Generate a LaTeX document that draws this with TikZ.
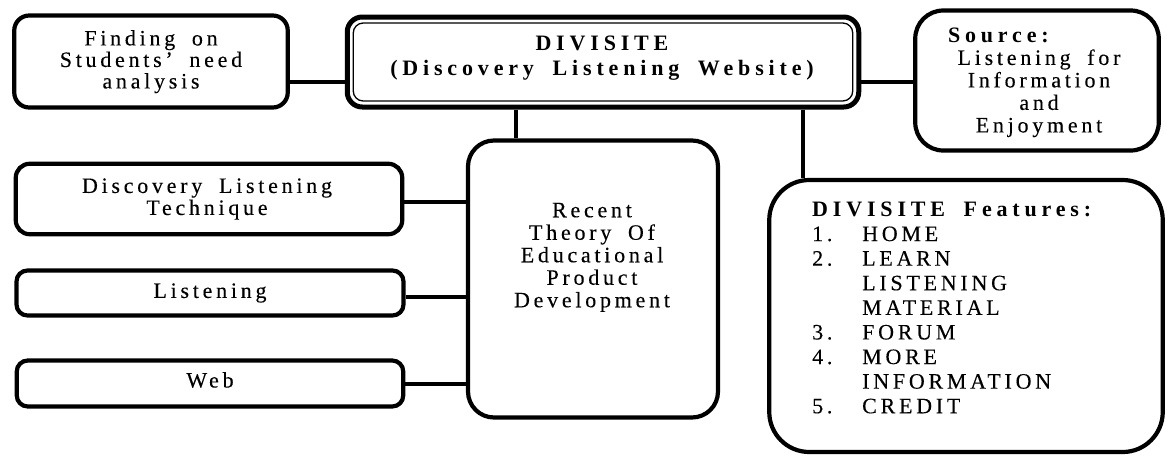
\documentclass[tikz,border=0pt]{standalone}
\usepackage{fontspec}
\setmainfont{Liberation Serif}[LetterSpace=17, WordSpace=1.8, UprightFeatures={FakeBold=0.2}, BoldFeatures={LetterSpace=22}]
\begin{document}
\begin{tikzpicture}[x=1pt,y=-1pt,
  box/.style={draw, line width=4.2pt, rounded corners=#1, inner sep=0pt},
  box/.default=12pt,
  txt/.style={inner sep=0pt, align=center},
  link/.style={line width=3.5pt}]
\useasboundingbox (0,0) rectangle (1167,461);
% boxes
\node[box=15pt, minimum width=273.5pt, minimum height=92pt] (find) at (151,61.5) {};
\node[box=15pt, line width=5pt, minimum width=511.5pt, minimum height=90pt] (main) at (603,62) {};
\draw[line width=1.3pt, rounded corners=10pt] ([shift={(8.5pt,-8.5pt)}]main.north west) rectangle ([shift={(-8.5pt,8.5pt)}]main.south east);
\node[box=28pt, minimum width=243.5pt, minimum height=140pt] (src) at (1037,80.5) {};
\node[box=14pt, minimum width=386.5pt, minimum height=70.5pt] (disc) at (209,199) {};
\node[box=11pt, minimum width=387pt, minimum height=45pt] (lis) at (210,293) {};
\node[box=11pt, minimum width=386.5pt, minimum height=46pt] (web) at (210,383.5) {};
\node[box=26pt, minimum width=250pt, minimum height=277pt] (recent) at (593,279) {};
\node[box=40pt, minimum width=393.5pt, minimum height=272pt] (feat) at (966,316) {};
% connectors
\draw[link] ([yshift=-20.5pt]find.east) -- ([yshift=-20.5pt]find.east -| main.west);
\draw[link] ([yshift=-20pt]main.east) -- ([yshift=-20pt]main.east -| src.west);
\draw[link] ([xshift=-87pt]main.south) -- ([xshift=-87pt]main.south |- recent.north);
\draw[link] ([xshift=200pt]main.south) -- ([xshift=200pt]main.south |- feat.north);
\draw[link] ([yshift=-3pt]disc.east) -- ([yshift=-3pt]disc.east -| recent.west);
\draw[link] ([yshift=-4pt]lis.east) -- ([yshift=-4pt]lis.east -| recent.west);
\draw[link] ([yshift=-0.5pt]web.east) -- ([yshift=-0.5pt]web.east -| recent.west);
% texts
\node[txt, font=\fontsize{22pt}{21.5pt}\selectfont] (tfind) at (151,61.7) {Finding on\\Students’ need\\analysis};
\node[txt, font=\fontsize{22pt}{25pt}\selectfont\bfseries] (tmain) at (602,58) {DIVISITE\\(Discovery Listening Website)};
\node[txt, font=\fontsize{22pt}{22.5pt}\selectfont] (tsrc) at (1039,82.5) {\makebox[182pt][l]{\textbf{Source:}}\\Listening for\\Information\\and\\Enjoyment};
\node[txt, font=\fontsize{22pt}{22pt}\selectfont] (tdisc) at (207,199) {Discovery Listening\\Technique};
\node[txt, font=\fontsize{22pt}{22pt}\selectfont] (tlis) at (210,293) {Listening};
\node[txt, font=\fontsize{22pt}{22pt}\selectfont] (tweb) at (210,380) {Web};
\node[txt, font=\fontsize{22pt}{22.5pt}\selectfont] (trecent) at (592,257.4) {Recent\\Theory Of\\Educational\\Product\\Development};
\node[txt, align=left, anchor=west, font=\fontsize{22pt}{24.6pt}\selectfont] (tfeat) at (812,307.7) {\textbf{DIVISITE Features:}\\
\makebox[50pt][l]{1.}HOME\\
\makebox[50pt][l]{2.}LEARN\\
\hspace*{50pt}LISTENING\\
\hspace*{50pt}MATERIAL\\
\makebox[50pt][l]{3.}FORUM\\
\makebox[50pt][l]{4.}MORE\\
\hspace*{50pt}INFORMATION\\
\makebox[50pt][l]{5.}CREDIT};
\end{tikzpicture}
\end{document}
